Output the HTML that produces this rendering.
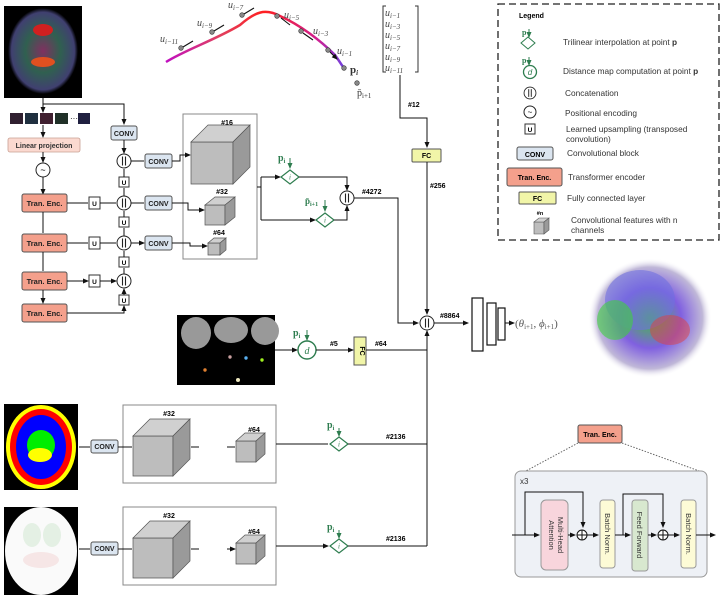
<!DOCTYPE html>
<html><head><meta charset="utf-8"><style>
body{margin:0;background:#fff;}
svg{display:block;font-family:"Liberation Sans",sans-serif;}
.b{font-weight:bold;font-size:7px;}
</style></head><body>
<svg width="722" height="595" viewBox="0 0 722 595" xmlns="http://www.w3.org/2000/svg">
<defs>
<marker id="a" markerWidth="6" markerHeight="6" refX="5" refY="3" orient="auto" markerUnits="userSpaceOnUse"><path d="M0,0.5 L6,3 L0,5.5z" fill="#111"/></marker>
<marker id="ag" markerWidth="6" markerHeight="6" refX="5" refY="3" orient="auto" markerUnits="userSpaceOnUse"><path d="M0,0.5 L6,3 L0,5.5z" fill="#2e7d4f"/></marker>
<linearGradient id="cg" x1="0" x2="1"><stop offset="0" stop-color="#c010c0"/><stop offset="0.3" stop-color="#e04060"/><stop offset="0.55" stop-color="#ff2020"/><stop offset="0.85" stop-color="#d02090"/><stop offset="1" stop-color="#7040e0"/></linearGradient>
<radialGradient id="dti" cx="0.5" cy="0.5" r="0.5"><stop offset="0" stop-color="#803060"/><stop offset="0.5" stop-color="#306050"/><stop offset="0.9" stop-color="#404070"/><stop offset="1" stop-color="#000"/></radialGradient>
<radialGradient id="br" cx="0.5" cy="0.5" r="0.5"><stop offset="0" stop-color="#40c040"/><stop offset="0.5" stop-color="#8060e0"/><stop offset="0.85" stop-color="#c0b8d8"/><stop offset="1" stop-color="#fff" stop-opacity="0"/></radialGradient>
<g id="cube16"><path d="M0,0 h42 v42 h-42z" fill="#bdbdbd" stroke="#555" stroke-width="0.7"/><path d="M0,0 l17,-17 h42 l-17,17z" fill="#d0d0d0" stroke="#555" stroke-width="0.7"/><path d="M42,0 l17,-17 v42 l-17,17z" fill="#9a9a9a" stroke="#555" stroke-width="0.7"/></g>
<g id="cube32"><path d="M0,0 h20 v20 h-20z" fill="#bdbdbd" stroke="#555" stroke-width="0.7"/><path d="M0,0 l10,-8 h20 l-10,8z" fill="#d0d0d0" stroke="#555" stroke-width="0.7"/><path d="M20,0 l10,-8 v20 l-10,8z" fill="#9a9a9a" stroke="#555" stroke-width="0.7"/></g>
<g id="cube64"><path d="M0,0 h12 v12 h-12z" fill="#bdbdbd" stroke="#555" stroke-width="0.7"/><path d="M0,0 l6,-5 h12 l-6,5z" fill="#d0d0d0" stroke="#555" stroke-width="0.7"/><path d="M12,0 l6,-5 v12 l-6,5z" fill="#9a9a9a" stroke="#555" stroke-width="0.7"/></g>
<g id="cubeL"><path d="M0,0 h40 v40 h-40z" fill="#bdbdbd" stroke="#555" stroke-width="0.7"/><path d="M0,0 l17,-17 h40 l-17,17z" fill="#d0d0d0" stroke="#555" stroke-width="0.7"/><path d="M40,0 l17,-17 v40 l-17,17z" fill="#9a9a9a" stroke="#555" stroke-width="0.7"/></g>
<g id="cubeS"><path d="M0,0 h20 v21 h-20z" fill="#bdbdbd" stroke="#555" stroke-width="0.7"/><path d="M0,0 l9,-8 h20 l-9,8z" fill="#d0d0d0" stroke="#555" stroke-width="0.7"/><path d="M20,0 l9,-8 v21 l-9,8z" fill="#9a9a9a" stroke="#555" stroke-width="0.7"/></g>
<g id="conc"><circle r="7" fill="#fff" stroke="#222" stroke-width="1"/><path d="M-1.5,-4.5 v9 M1.5,-4.5 v9" stroke="#222" stroke-width="1.1"/></g>
<g id="dia"><path d="M0,-7 L9,0 L0,7 L-9,0z" fill="#fff" stroke="#2e7d4f" stroke-width="1.2"/><text y="2.5" font-size="7" font-style="italic" fill="#2e7d4f" text-anchor="middle" font-family="Liberation Serif,serif">i</text></g>
</defs>

<!-- top DTI image -->
<rect x="4" y="6" width="78" height="92" fill="#000"/>
<ellipse cx="43" cy="51" rx="35" ry="43" fill="url(#dti)"/>
<ellipse cx="43" cy="30" rx="10" ry="6" fill="#d02020"/>
<ellipse cx="43" cy="62" rx="12" ry="5" fill="#e05020"/>
<path d="M43,98 V112" stroke="#111" fill="none" marker-end="url(#a)"/>
<path d="M43,104 H124 V124" stroke="#111" fill="none" marker-end="url(#a)"/>
<g>
<rect x="10" y="113" width="13" height="11" fill="#302030"/><rect x="25" y="113" width="13" height="11" fill="#203040"/><rect x="40" y="113" width="13" height="11" fill="#402030"/><rect x="55" y="113" width="13" height="11" fill="#203028"/><text x="70" y="121" font-size="8">···</text><rect x="78" y="113" width="12" height="11" fill="#202040"/>
</g>
<path d="M43,125 V137" stroke="#111" marker-end="url(#a)"/>
<rect x="8" y="138" width="72" height="14" rx="2" fill="#fbd9d0" stroke="#c9a093" stroke-width="0.8"/>
<text x="44" y="148" class="b" text-anchor="middle" fill="#333">Linear projection</text>
<path d="M43,152 V162" stroke="#111" marker-end="url(#a)"/>
<circle cx="43" cy="170" r="7" fill="#fff" stroke="#222"/><text x="43" y="173" font-size="9" text-anchor="middle">~</text>
<path d="M43,177 V194" stroke="#111" marker-end="url(#a)"/>
<g font-size="7.5" font-weight="bold" text-anchor="middle" fill="#222">
<rect x="22" y="194" width="45" height="18" rx="2" fill="#f4a08c" stroke="#555"/><text x="44.5" y="206">Tran. Enc.</text>
<rect x="22" y="234" width="45" height="18" rx="2" fill="#f4a08c" stroke="#555"/><text x="44.5" y="246">Tran. Enc.</text>
<rect x="22" y="272" width="45" height="18" rx="2" fill="#f4a08c" stroke="#555"/><text x="44.5" y="284">Tran. Enc.</text>
<rect x="22" y="304" width="45" height="18" rx="2" fill="#f4a08c" stroke="#555"/><text x="44.5" y="316">Tran. Enc.</text>
</g>
<path d="M43,212 V233 M43,252 V271 M43,290 V303" stroke="#111" marker-end="url(#a)"/>
<g font-size="6.5" font-weight="bold" text-anchor="middle">
<path d="M67,203 H88 M67,243 H88 M67,281 H88" stroke="#111" marker-end="url(#a)"/>
<rect x="89" y="197" width="11" height="12" fill="#fff" stroke="#333"/><text x="94.5" y="206">U</text>
<rect x="89" y="237" width="11" height="12" fill="#fff" stroke="#333"/><text x="94.5" y="246">U</text>
<rect x="89" y="275" width="11" height="12" fill="#fff" stroke="#333"/><text x="94.5" y="284">U</text>
<path d="M100,203 H116 M100,243 H116 M100,281 H116" stroke="#111" marker-end="url(#a)"/>
<rect x="119" y="177" width="10" height="10" fill="#fff" stroke="#333"/><text x="124" y="185">U</text>
<rect x="119" y="217" width="10" height="10" fill="#fff" stroke="#333"/><text x="124" y="225">U</text>
<rect x="119" y="257" width="10" height="10" fill="#fff" stroke="#333"/><text x="124" y="265">U</text>
<rect x="119" y="295" width="10" height="10" fill="#fff" stroke="#333"/><text x="124" y="303">U</text>
</g>
<path d="M124,177 V169 M124,196 V188 M124,217 V211 M124,236 V228 M124,257 V251 M124,274 V268 M124,295 V289" stroke="#111" marker-end="url(#a)"/>
<path d="M67,313 H124 V306" stroke="#111" fill="none" marker-end="url(#a)"/>
<g font-size="7" font-weight="bold" text-anchor="middle" fill="#222">
<rect x="111" y="126" width="26" height="14" rx="2" fill="#dbe5f0" stroke="#555"/><text x="124" y="136">CONV</text>
<rect x="145" y="154" width="27" height="14" rx="2" fill="#dbe5f0" stroke="#555"/><text x="158.5" y="164">CONV</text>
<rect x="145" y="196" width="27" height="14" rx="2" fill="#dbe5f0" stroke="#555"/><text x="158.5" y="206">CONV</text>
<rect x="145" y="236" width="27" height="14" rx="2" fill="#dbe5f0" stroke="#555"/><text x="158.5" y="246">CONV</text>
</g>
<path d="M124,140 V153" stroke="#111" marker-end="url(#a)"/>
<use href="#conc" x="124" y="161"/><use href="#conc" x="124" y="203"/><use href="#conc" x="124" y="243"/><use href="#conc" x="124" y="281"/>
<path d="M131,161 H144 M131,203 H144 M131,243 H144" stroke="#111" marker-end="url(#a)"/>
<rect x="183" y="114" width="74" height="145" fill="#fff" stroke="#888"/>
<path d="M172,161 H180 V155 H190" stroke="#111" fill="none" marker-end="url(#a)"/>
<path d="M172,203 H188 V210 H204" stroke="#111" fill="none" marker-end="url(#a)"/>
<path d="M172,243 H190 V246 H207" stroke="#111" fill="none" marker-end="url(#a)"/>
<use href="#cube16" x="191" y="142"/>
<use href="#cube32" x="205" y="205"/>
<use href="#cube64" x="208" y="243"/>
<g class="b" font-size="7.5" text-anchor="middle"><text x="227" y="125">#16</text><text x="222" y="194">#32</text><text x="219" y="235">#64</text></g>
<path d="M257,187 H261 M261,177 V220" stroke="#111" fill="none"/>
<path d="M261,177 H280" stroke="#111" marker-end="url(#a)"/>
<path d="M261,220 H315" stroke="#111" marker-end="url(#a)"/>
<use href="#dia" x="290" y="177"/><use href="#dia" x="325" y="220"/>
<text x="278" y="161" font-size="10" fill="#2e7d4f" font-family="Liberation Serif,serif" font-weight="bold">p<tspan font-size="6" dy="2">i</tspan></text>
<path d="M290,158 V168" stroke="#2e7d4f" marker-end="url(#ag)"/>
<text x="305" y="204" font-size="9" fill="#2e7d4f" font-family="Liberation Serif,serif" font-weight="bold">p̄<tspan font-size="6" dy="2">i+1</tspan></text>
<path d="M325,200 V211" stroke="#2e7d4f" marker-end="url(#ag)"/>
<path d="M299,177 H347 V190" stroke="#111" fill="none" marker-end="url(#a)"/>
<path d="M334,220 H347 V206" stroke="#111" fill="none" marker-end="url(#a)"/>
<use href="#conc" x="347" y="198"/>
<text x="362" y="194" class="b" font-size="7.5">#4272</text>
<path d="M354,198 H398 V323 H418" stroke="#111" fill="none" marker-end="url(#a)"/>
<!-- curve -->
<path d="M166,62 C185,50 215,40 240,25 C255,12 265,8 280,16 C300,25 320,40 335,55 C340,62 342,66 344,68" stroke="url(#cg)" stroke-width="2.5" fill="none"/>
<g fill="#888" stroke="#333" stroke-width="0.6">
<circle cx="181" cy="48" r="2.3"/><circle cx="212" cy="32" r="2.3"/><circle cx="242" cy="15" r="2.3"/><circle cx="277" cy="16" r="2.3"/><circle cx="301" cy="31" r="2.3"/><circle cx="328" cy="50" r="2.3"/><circle cx="344" cy="68" r="2.3"/><circle cx="357" cy="83" r="2.3"/>
</g>
<path d="M183,47 L193,41 M214,31 L224,25 M244,14 L254,8 M281,18 L290,25 M303,33 L313,40 M330,52 L337,59" stroke="#111" stroke-width="1.1" marker-end="url(#a)"/>
<g font-family="Liberation Serif,serif" font-style="italic" fill="#444" font-size="10">
<text x="160" y="42">u<tspan font-size="7" dy="2">i−11</tspan></text>
<text x="197" y="26">u<tspan font-size="7" dy="2">i−9</tspan></text>
<text x="228" y="8">u<tspan font-size="7" dy="2">i−7</tspan></text>
<text x="284" y="18">u<tspan font-size="7" dy="2">i−5</tspan></text>
<text x="313" y="34">u<tspan font-size="7" dy="2">i−3</tspan></text>
<text x="337" y="54">u<tspan font-size="7" dy="2">i−1</tspan></text>
</g>
<text x="350" y="73" font-family="Liberation Serif,serif" font-size="11" font-weight="bold" fill="#333">p<tspan font-size="7" dy="2" font-style="italic">i</tspan></text>
<text x="357" y="96" font-family="Liberation Serif,serif" font-size="10" fill="#333">p̄<tspan font-size="7" dy="2">i+1</tspan></text>
<path d="M386,6 h-3 v66 h3 M415,6 h3 v66 h-3" stroke="#333" fill="none"/>
<g font-family="Liberation Serif,serif" font-style="italic" fill="#444" font-size="10">
<text x="385" y="16">u<tspan font-size="7" dy="2">i−1</tspan></text>
<text x="385" y="27">u<tspan font-size="7" dy="2">i−3</tspan></text>
<text x="385" y="38">u<tspan font-size="7" dy="2">i−5</tspan></text>
<text x="385" y="49">u<tspan font-size="7" dy="2">i−7</tspan></text>
<text x="385" y="60">u<tspan font-size="7" dy="2">i−9</tspan></text>
<text x="385" y="71">u<tspan font-size="7" dy="2">i−11</tspan></text>
</g>
<path d="M400,75 V118 H427 V147" stroke="#111" fill="none" marker-end="url(#a)"/>
<text x="408" y="107" class="b" font-size="7.5">#12</text>
<rect x="412" y="149" width="29" height="13" rx="1" fill="#f1f5a8" stroke="#555"/>
<text x="426.5" y="158" class="b" text-anchor="middle">FC</text>
<path d="M427,162 V314" stroke="#111" marker-end="url(#a)"/>
<text x="430" y="188" class="b" font-size="7.5">#256</text>
<use href="#conc" x="427" y="323"/>
<path d="M427,546 V331" stroke="#111" fill="none" marker-end="url(#a)"/>
<text x="440" y="318" class="b" font-size="7.5">#8864</text>
<path d="M434,323 H468" stroke="#111" marker-end="url(#a)"/>
<rect x="472" y="298" width="11" height="53" fill="#fff" stroke="#111" stroke-width="1.2"/>
<rect x="487" y="303" width="9" height="42" fill="#fff" stroke="#111" stroke-width="1.2"/>
<rect x="498" y="308" width="7" height="32" fill="#fff" stroke="#111" stroke-width="1.2"/>
<path d="M505,323 H514" stroke="#111" marker-end="url(#a)"/>
<text x="515" y="327" font-family="Liberation Serif,serif" font-size="11" fill="#555">(<tspan font-style="italic">θ</tspan><tspan font-size="7" dy="2">i+1</tspan><tspan dy="-2">, </tspan><tspan font-style="italic">ϕ</tspan><tspan font-size="7" dy="2">i+1</tspan><tspan dy="-2">)</tspan></text>
<!-- 3D brain -->
<ellipse cx="650" cy="318" rx="62" ry="60" fill="url(#br)"/>
<ellipse cx="640" cy="300" rx="35" ry="30" fill="#7070e0" opacity="0.6"/>
<ellipse cx="615" cy="320" rx="18" ry="20" fill="#40d040" opacity="0.6"/>
<ellipse cx="670" cy="330" rx="20" ry="15" fill="#e04040" opacity="0.5"/>
<!-- distance map -->
<rect x="177" y="315" width="98" height="70" fill="#000"/>
<ellipse cx="196" cy="333" rx="15" ry="16" fill="#999"/>
<ellipse cx="231" cy="330" rx="17" ry="13" fill="#999"/>
<ellipse cx="265" cy="331" rx="14" ry="14" fill="#999"/>
<circle cx="230" cy="357" r="1.7" fill="#c9a0a0"/><circle cx="246" cy="358" r="1.7" fill="#5ab0f0"/><circle cx="262" cy="360" r="1.7" fill="#a0f020"/><circle cx="205" cy="370" r="1.7" fill="#e08030"/><circle cx="238" cy="380" r="2" fill="#eee8c0"/>
<path d="M275,350 H297" stroke="#111" marker-end="url(#a)"/>
<circle cx="307" cy="350" r="9" fill="#fff" stroke="#2e7d4f" stroke-width="1.4"/>
<text x="307" y="354" font-size="10" font-style="italic" fill="#2e7d4f" text-anchor="middle" font-family="Liberation Serif,serif">d</text>
<text x="293" y="336" font-size="10" fill="#2e7d4f" font-family="Liberation Serif,serif" font-weight="bold">p<tspan font-size="6" dy="2">i</tspan></text>
<path d="M307,330 V340" stroke="#2e7d4f" marker-end="url(#ag)"/>
<path d="M316,350 H353" stroke="#111" marker-end="url(#a)"/>
<text x="330" y="346" class="b" font-size="7.5">#5</text>
<rect x="354" y="337" width="12" height="28" fill="#f1f5a8" stroke="#555"/>
<text x="360" y="351" class="b" text-anchor="middle" transform="rotate(90 360 351)">FC</text>
<path d="M366,350 H427" stroke="#111"/>
<text x="375" y="346" class="b" font-size="7.5">#64</text>
<!-- bottom rows -->
<rect x="4" y="404" width="74" height="86" fill="#000"/>
<ellipse cx="41" cy="447" rx="35" ry="42" fill="#ffff00"/>
<ellipse cx="41" cy="447" rx="31" ry="38" fill="#ff0000"/>
<ellipse cx="41" cy="447" rx="25" ry="32" fill="#0000ff"/>
<ellipse cx="41" cy="445" rx="14" ry="15" fill="#00ee00"/>
<ellipse cx="40" cy="455" rx="12" ry="7" fill="#ffff00"/>
<rect x="4" y="507" width="74" height="88" fill="#000"/>
<ellipse cx="41" cy="551" rx="36" ry="44" fill="#fafafa"/>
<ellipse cx="32" cy="535" rx="9" ry="12" fill="#e4f0e4"/><ellipse cx="52" cy="535" rx="9" ry="12" fill="#e4f0e4"/><ellipse cx="41" cy="560" rx="18" ry="8" fill="#f6e6e6"/>
<g font-size="7" font-weight="bold" text-anchor="middle" fill="#222">
<rect x="91" y="440" width="27" height="13" rx="2" fill="#dbe5f0" stroke="#555"/><text x="104.5" y="449">CONV</text>
<rect x="200" y="441" width="27" height="13" rx="2" fill="#dbe5f0" stroke="#555"/><text x="213.5" y="450">CONV</text>
<rect x="91" y="542" width="27" height="13" rx="2" fill="#dbe5f0" stroke="#555"/><text x="104.5" y="551">CONV</text>
<rect x="200" y="543" width="27" height="13" rx="2" fill="#dbe5f0" stroke="#555"/><text x="213.5" y="552">CONV</text>
</g>
<rect x="123" y="405" width="153" height="78" fill="#fff" stroke="#888"/>
<rect x="123" y="507" width="153" height="78" fill="#fff" stroke="#888"/>
<use href="#cubeL" x="133" y="436"/><use href="#cubeS" x="236" y="441"/>
<use href="#cubeL" x="133" y="538"/><use href="#cubeS" x="236" y="543"/>
<path d="M79,447 H90 M118,447 H132 M191,447 H199 M227,447 H235 M79,549 H90 M118,549 H132 M191,549 H199 M227,549 H235" stroke="#111" marker-end="url(#a)"/>
<g class="b" font-size="7.5" text-anchor="middle"><text x="169" y="416">#32</text><text x="254" y="432">#64</text><text x="169" y="518">#32</text><text x="254" y="534">#64</text></g>
<path d="M276,444 H328 M276,546 H328" stroke="#111" marker-end="url(#a)"/>
<use href="#dia" x="339" y="444"/><use href="#dia" x="339" y="546"/>
<text x="327" y="428" font-size="10" fill="#2e7d4f" font-family="Liberation Serif,serif" font-weight="bold">p<tspan font-size="6" dy="2">i</tspan></text>
<path d="M339,428 V436" stroke="#2e7d4f" marker-end="url(#ag)"/>
<text x="327" y="530" font-size="10" fill="#2e7d4f" font-family="Liberation Serif,serif" font-weight="bold">p<tspan font-size="6" dy="2">i</tspan></text>
<path d="M339,530 V538" stroke="#2e7d4f" marker-end="url(#ag)"/>
<path d="M348,444 H427 M348,546 H427" stroke="#111"/>
<text x="386" y="439" class="b" font-size="7.5">#2136</text>
<text x="386" y="541" class="b" font-size="7.5">#2136</text>
<!-- legend -->
<rect x="498" y="4" width="221" height="236" fill="#fff" stroke="#222" stroke-width="1.3" stroke-dasharray="7,4"/>
<text x="519" y="18" class="b" font-size="8">Legend</text>
<g font-size="8.3" fill="#333">
<text x="563" y="45">Trilinear interpolation at point <tspan font-weight="bold">p</tspan></text>
<text x="563" y="74">Distance map computation at point <tspan font-weight="bold">p</tspan></text>
<text x="565" y="96">Concatenation</text>
<text x="565" y="116">Positional encoding</text>
<text x="566" y="132">Learned upsampling (transposed</text>
<text x="566" y="142">convolution)</text>
<text x="567" y="156">Convolutional block</text>
<text x="568" y="180">Transformer encoder</text>
<text x="567" y="201">Fully connected layer</text>
<text x="571" y="223">Convolutional features with n</text>
<text x="571" y="233">channels</text>
</g>
<text x="522" y="35" font-size="8" fill="#2e7d4f" font-family="Liberation Serif,serif" font-weight="bold">p</text><path d="M529,29 V37" stroke="#2e7d4f" marker-end="url(#ag)"/>
<path d="M528,37 L535,43 L528,49 L521,43z" fill="#fff" stroke="#2e7d4f"/>
<text x="522" y="63" font-size="8" fill="#2e7d4f" font-family="Liberation Serif,serif" font-weight="bold">p</text><path d="M529,57 V65" stroke="#2e7d4f" marker-end="url(#ag)"/>
<circle cx="530" cy="72" r="6.5" fill="#fff" stroke="#2e7d4f" stroke-width="1.3"/><text x="530" y="75" font-size="8" font-style="italic" fill="#2e7d4f" text-anchor="middle">d</text>
<g transform="translate(530,93) scale(0.85)"><use href="#conc"/></g>
<circle cx="530" cy="112" r="6" fill="#fff" stroke="#222"/><text x="530" y="115" font-size="8" text-anchor="middle">~</text>
<rect x="525" y="124" width="10" height="10" fill="#fff" stroke="#333"/><text x="530" y="132" font-size="6.5" font-weight="bold" text-anchor="middle">U</text>
<rect x="517" y="147" width="36" height="13" rx="2" fill="#dbe5f0" stroke="#555"/><text x="535" y="157" class="b" text-anchor="middle">CONV</text>
<rect x="507" y="168" width="55" height="18" rx="2" fill="#f4a08c" stroke="#555"/><text x="534.5" y="180" class="b" font-size="7.5" text-anchor="middle">Tran. Enc.</text>
<rect x="519" y="192" width="37" height="12" rx="1" fill="#f1f5a8" stroke="#555"/><text x="537.5" y="201" class="b" text-anchor="middle">FC</text>
<text x="540" y="215" font-size="5.5" font-weight="bold" text-anchor="middle">#n</text>
<g transform="translate(534,222)"><path d="M0,0 h10 v12 h-10z" fill="#bdbdbd" stroke="#555" stroke-width="0.6"/><path d="M0,0 l5,-4 h10 l-5,4z" fill="#d0d0d0" stroke="#555" stroke-width="0.6"/><path d="M10,0 l5,-4 v12 l-5,4z" fill="#9a9a9a" stroke="#555" stroke-width="0.6"/></g>
<!-- tran enc detail -->
<rect x="578" y="425" width="44" height="18" rx="2" fill="#f4a08c" stroke="#555"/><text x="600" y="437" class="b" font-size="7.5" text-anchor="middle">Tran. Enc.</text>
<path d="M578,443 L524,472 M622,443 L702,472" stroke="#666" stroke-dasharray="1.5,1.5" fill="none"/>
<rect x="515" y="471" width="192" height="106" rx="6" fill="#eef1f6" stroke="#999"/>
<text x="520" y="484" font-size="8" fill="#333">x3</text>
<rect x="541" y="500" width="27" height="70" rx="5" fill="#f8d5dc" stroke="#999"/>
<text transform="translate(558,535) rotate(90)" font-size="7.5" text-anchor="middle" fill="#333">Multi-Head</text>
<text transform="translate(549,535) rotate(90)" font-size="7.5" text-anchor="middle" fill="#333">Attention</text>
<rect x="600" y="500" width="15" height="68" rx="3" fill="#fdfbd6" stroke="#999"/>
<text transform="translate(605,534) rotate(90)" font-size="7.5" text-anchor="middle" fill="#333">Batch Norm.</text>
<rect x="632" y="500" width="16" height="71" rx="3" fill="#d8e8cf" stroke="#999"/>
<text transform="translate(637,535) rotate(90)" font-size="7.5" text-anchor="middle" fill="#333">Feed Forward</text>
<rect x="681" y="500" width="15" height="68" rx="3" fill="#fdfbd6" stroke="#999"/>
<text transform="translate(686,534) rotate(90)" font-size="7.5" text-anchor="middle" fill="#333">Batch Norm.</text>
<g stroke="#111" fill="none">
<path d="M512,535 H539" marker-end="url(#a)"/>
<path d="M525,535 V492 H583 V527" marker-end="url(#a)"/>
<path d="M568,535 H575" marker-end="url(#a)"/>
<circle cx="582" cy="535" r="5" fill="#fff"/><path d="M577,535 h10 M582,530 v10"/>
<path d="M587,535 H598" marker-end="url(#a)"/>
<path d="M615,535 H630" marker-end="url(#a)"/>
<path d="M623,535 V494 H663 V527" marker-end="url(#a)"/>
<path d="M648,535 H656" marker-end="url(#a)"/>
<circle cx="663" cy="535" r="5" fill="#fff"/><path d="M658,535 h10 M663,530 v10"/>
<path d="M668,535 H679" marker-end="url(#a)"/>
<path d="M696,535 H715" marker-end="url(#a)"/>
</g>
</svg>
</body></html>
